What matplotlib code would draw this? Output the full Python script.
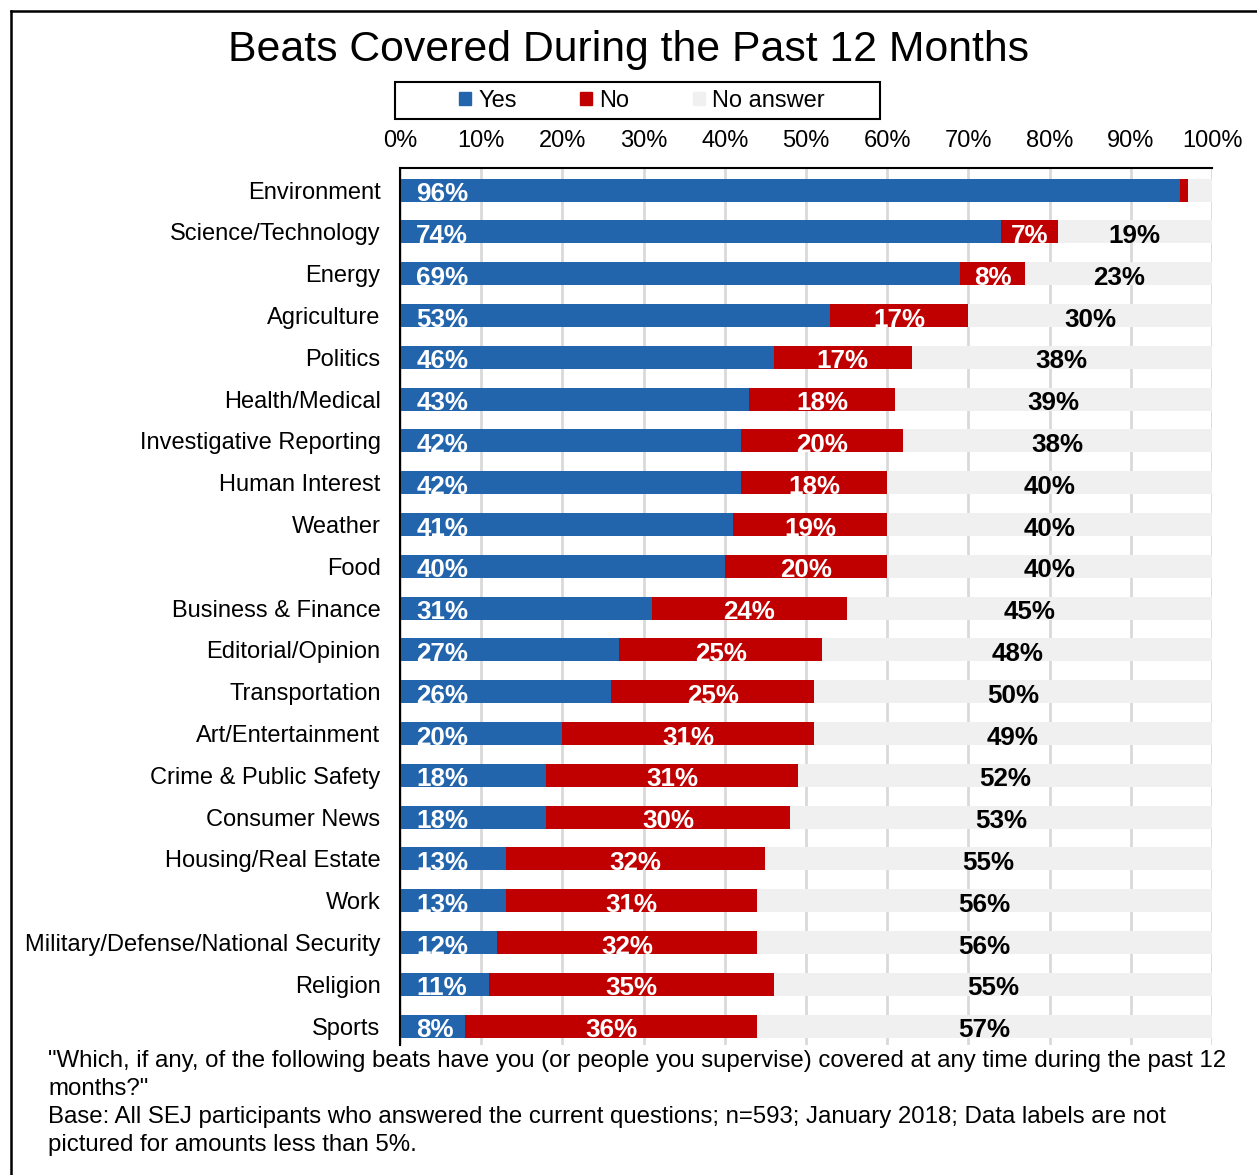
import matplotlib.pyplot as plt
from matplotlib.patches import Patch, Rectangle
from matplotlib.lines import Line2D

plt.rcParams['font.family'] = ['Liberation Sans', 'DejaVu Sans']

beats = ['Environment', 'Science/Technology', 'Energy', 'Agriculture', 'Politics',
         'Health/Medical', 'Investigative Reporting', 'Human Interest', 'Weather', 'Food',
         'Business & Finance', 'Editorial/Opinion', 'Transportation', 'Art/Entertainment',
         'Crime & Public Safety', 'Consumer News', 'Housing/Real Estate', 'Work',
         'Military/Defense/National Security', 'Religion', 'Sports']
yes = [96, 74, 69, 53, 46, 43, 42, 42, 41, 40, 31, 27, 26, 20, 18, 18, 13, 13, 12, 11, 8]
no = [1, 7, 8, 17, 17, 18, 20, 18, 19, 20, 24, 25, 25, 31, 31, 30, 32, 31, 32, 35, 36]
no_answer = [3, 19, 23, 30, 38, 39, 38, 40, 40, 40, 45, 48, 50, 49, 52, 53, 55, 56, 56, 55, 57]
ticks = [0, 10, 20, 30, 40, 50, 60, 70, 80, 90, 100]

c_yes = '#2365ad'
c_no = '#c00000'
c_na = '#f0f0f0'

fig = plt.figure(figsize=(12.57, 11.75), dpi=100)
ax = fig.add_axes([400/1257, 1-1045/1175, 812/1257, 877/1175])

h = 0.55
ys = list(range(len(beats)))
left_no = [a for a in yes]
left_na = [a + b for a, b in zip(yes, no)]
ax.barh(ys, yes, height=h, color=c_yes, zorder=2)
ax.barh(ys, no, left=left_no, height=h, color=c_no, zorder=2)
ax.barh(ys, no_answer, left=left_na, height=h, color=c_na, zorder=2)

# data labels (not shown below 5%)
lab_kw = dict(fontsize=18.7, fontweight='bold', va='baseline', zorder=3, clip_on=False)
for i in ys:
    yb = i + h/2 - 0.01
    if yes[i] >= 5:
        ax.text(2, yb, f'{yes[i]}%', color='white', ha='left', **lab_kw)
    if no[i] >= 5:
        ax.text(yes[i] + no[i]/2, yb, f'{no[i]}%', color='white', ha='center', **lab_kw)
    if no_answer[i] >= 5:
        mid = left_na[i] + (100 - left_na[i])/2
        ax.text(mid, yb, f'{no_answer[i]}%', color='black', ha='center', **lab_kw)

ax.set_xlim(0, 100)
ax.set_ylim(20.45, -0.53)
ax.set_yticks(ys)
ax.set_yticklabels(beats, fontsize=17)
ax.set_xticks(ticks)
ax.set_xticklabels([f'{t}%' for t in ticks], fontsize=17)
ax.xaxis.tick_top()
ax.tick_params(axis='x', length=0, pad=11.5)
ax.tick_params(axis='y', length=0, pad=14)
ax.grid(axis='x', color='#d9d9d9', linewidth=2, zorder=0)
for s in ['right', 'bottom']:
    ax.spines[s].set_visible(False)
ax.spines['top'].set_linewidth(1.5)
ax.spines['left'].set_linewidth(1.5)
ax.spines['top'].set_zorder(4)
ax.spines['left'].set_zorder(4)

fig.text(0.5, 1-50/1175, 'Beats Covered During the Past 12 Months', fontsize=30.8,
         ha='center', va='center')

# legend box drawn separately so it can be wider than its content
fig.add_artist(Rectangle((395/1257, 1-119/1175), 485/1257, 37/1175, transform=fig.transFigure,
                         facecolor='white', edgecolor='black', linewidth=1.5))
handles = [Patch(color=c_yes, label='Yes'), Patch(color=c_no, label='No'),
           Patch(color=c_na, label='No answer')]
fig.legend(handles=handles, loc='center', bbox_to_anchor=(642/1257, 1-101/1175),
           ncol=3, fontsize=17, frameon=False,
           handlelength=0.5, handleheight=0.5, handletextpad=0.3,
           columnspacing=2.7, borderpad=0, borderaxespad=0)

fig.text(48/1257, 1-1050/1175,
         '"Which, if any, of the following beats have you (or people you supervise) covered at any time during the past 12\n'
         'months?"\n'
         'Base: All SEJ participants who answered the current questions; n=593; January 2018; Data labels are not\n'
         'pictured for amounts less than 5%.',
         fontsize=17.25, ha='left', va='top', linespacing=1.36)

fig.add_artist(Line2D([11/1257, 1], [1-11/1175, 1-11/1175], color='black', linewidth=1.8))
fig.add_artist(Line2D([11/1257, 11/1257], [0, 1-11/1175], color='black', linewidth=1.8))

fig.savefig('out.png', dpi=100)
